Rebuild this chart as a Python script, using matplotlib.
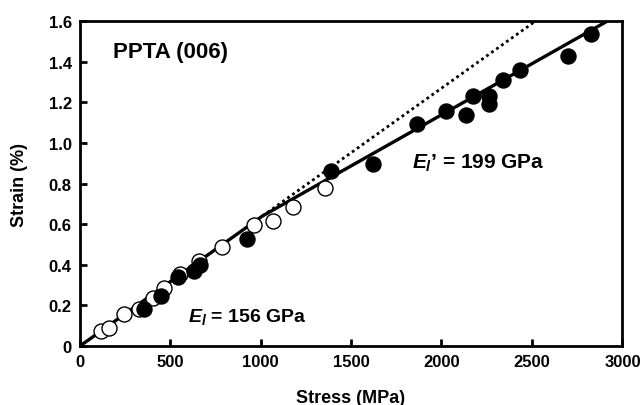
import matplotlib
matplotlib.use("Agg")
import matplotlib.pyplot as plt
import numpy as np
from matplotlib.transforms import ScaledTranslation

plt.rcParams['font.family'] = ['Liberation Sans', 'DejaVu Sans']
plt.rcParams['font.weight'] = 'bold'
plt.rcParams['mathtext.fontset'] = 'custom'
plt.rcParams['mathtext.it'] = 'Liberation Sans:bold:italic'
plt.rcParams['mathtext.rm'] = 'Liberation Sans:bold'
plt.rcParams['mathtext.bf'] = 'Liberation Sans:bold'

# Open circles (stress MPa, strain %)
open_stress = [116, 160, 243, 327, 404, 465, 554, 659, 786, 963, 1068, 1179, 1356]
open_strain = [0.074, 0.089, 0.158, 0.182, 0.236, 0.286, 0.355, 0.419, 0.488, 0.596, 0.616, 0.685, 0.778]

# Filled circles
filled_stress = [354, 448, 543, 630, 664, 924, 1389, 1621, 1865, 2026, 2136, 2175, 2264, 2264, 2341, 2435, 2701, 2828]
filled_strain = [0.182, 0.246, 0.340, 0.369, 0.399, 0.527, 0.862, 0.897, 1.094, 1.158, 1.138, 1.232, 1.232, 1.192, 1.310, 1.360, 1.429, 1.537]

# Fit lines
solid_stress = [0, 1010, 2920]
solid_strain = [0.0, 0.64, 1.60]
dotted_stress = [1010, 2530]
dotted_strain = [0.64, 1.605]

xticks = [0, 500, 1000, 1500, 2000, 2500, 3000]
yticks = [0, 0.2, 0.4, 0.6, 0.8, 1.0, 1.2, 1.4, 1.6]
ytick_labels = ['0', '0.2', '0.4', '0.6', '0.8', '1.0', '1.2', '1.4', '1.6']

fig = plt.figure(figsize=(6.43, 4.06), dpi=100)
ax = fig.add_axes([0.1244, 0.1453, 0.8429, 0.8005])

ax.plot(solid_stress, solid_strain, color='black', lw=2.4, solid_capstyle='butt', zorder=2)
ax.plot(dotted_stress, dotted_strain, color='black', lw=2.0, ls=(0, (1, 1.2)), zorder=2)

ax.plot(open_stress, open_strain, 'o', ms=10.8, mfc='white', mec='black', mew=1.0, zorder=3)
ax.plot(filled_stress, filled_strain, 'o', ms=10.8, mfc='black', mec='black', mew=1.0, zorder=4)

ax.set_xlim(0, 3000)
ax.set_ylim(0, 1.6)
ax.set_xticks(xticks)
ax.set_yticks(yticks)
ax.set_yticklabels(ytick_labels)
ax.tick_params(direction='in', length=5, width=2.0, labelsize=12, pad=6)
for lab in ax.get_xticklabels() + ax.get_yticklabels():
    lab.set_fontweight('bold')
xl = ax.get_xticklabels()
xl[-1].set_horizontalalignment('right')
xl[-1].set_transform(xl[-1].get_transform() + ScaledTranslation(19 / 100, 0, fig.dpi_scale_trans))
for s in ax.spines.values():
    s.set_linewidth(2.0)

ax.set_xlabel('Stress (MPa)', fontsize=13, fontweight='bold', labelpad=14)
ax.set_ylabel('Strain (%)', fontsize=13, fontweight='bold', labelpad=15)

ax.text(0.061, 0.937, 'PPTA (006)', transform=ax.transAxes, fontsize=16, fontweight='bold', va='top', ha='left')
ax.text(600, 0.15, r'$E_l$ = 156 GPa', fontsize=14, fontweight='bold', va='center', ha='left')
ax.text(1840, 0.905, r'$E_l$' + '\u2019 = 199 GPa', fontsize=15, fontweight='bold', va='center', ha='left')

fig.savefig('out.png', dpi=100)
